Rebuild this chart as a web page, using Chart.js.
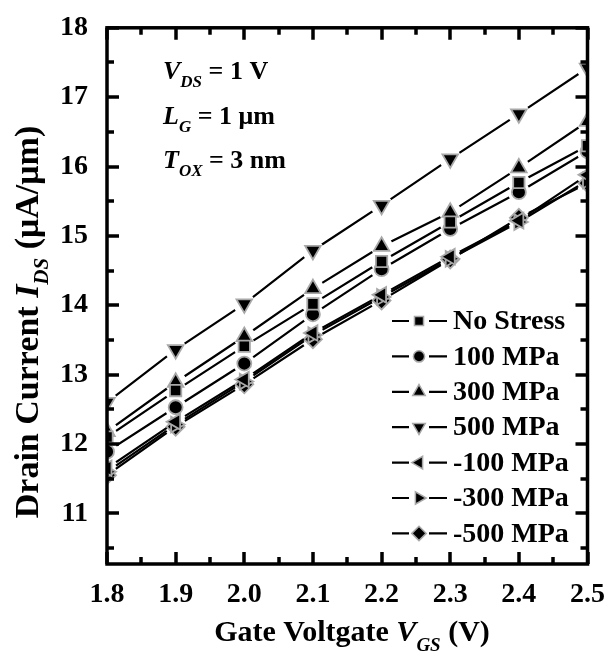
<!DOCTYPE html>
<html><head><meta charset="utf-8">
<script src="https://cdn.jsdelivr.net/npm/chart.js@4/dist/chart.umd.min.js"></script>
<style>html,body{margin:0;padding:0;background:#fff;}#wrap{width:611px;height:656px;}</style>
</head><body><div id="wrap"><canvas id="c" width="611" height="656"></canvas></div>
<script>
// ---- data ----
const vgs = [1.8, 1.9, 2.0, 2.1, 2.2, 2.3, 2.4, 2.5];
const seriesLabels = ['No Stress', '100 MPa', '300 MPa', '500 MPa', '-100 MPa', '-300 MPa', '-500 MPa'];
const idsNoStress = [12.10, 12.77, 13.41, 14.02, 14.63, 15.20, 15.77, 16.30];
const ids100 = [11.89, 12.53, 13.16, 13.87, 14.52, 15.10, 15.63, 16.22];
const ids300 = [12.18, 12.89, 13.55, 14.24, 14.85, 15.34, 15.98, 16.65];
const ids500 = [12.60, 13.36, 14.02, 14.79, 15.44, 16.11, 16.76, 17.42];
const idsM100 = [11.65, 12.32, 12.93, 13.60, 14.15, 14.70, 15.22, 15.88];
const idsM300 = [11.60, 12.28, 12.90, 13.57, 14.12, 14.67, 15.20, 15.80];
const idsM500 = [11.55, 12.25, 12.86, 13.51, 14.07, 14.66, 15.26, 15.76];
const xTickValues = [1.8, 1.9, 2.0, 2.1, 2.2, 2.3, 2.4, 2.5];
const yTickValues = [11, 12, 13, 14, 15, 16, 17, 18];

const seriesValues = [idsNoStress, ids100, ids300, ids500, idsM100, idsM300, idsM500];
const markerStyles = [
  {style:'rect', rot:0, r:8},
  {style:'circle', rot:0, r:7},
  {style:'triangle', rot:0, r:9},
  {style:'triangle', rot:180, r:9},
  {style:'triangle', rot:270, r:9},
  {style:'triangle', rot:90, r:9},
  {style:'rectRot', rot:0, r:9}
];
const SERIF = '"Liberation Serif", "Times New Roman", serif';
const GAP = 11;

const datasets = seriesLabels.map((lab, i) => ({
  label: lab,
  data: vgs.map((x, j) => ({x: x, y: seriesValues[i][j]})),
  borderColor: '#000',
  borderWidth: 2.2,
  backgroundColor: '#000',
  pointBackgroundColor: '#000',
  pointBorderColor: '#a8a8a8',
  pointBorderWidth: 1.8,
  pointStyle: markerStyles[i].style,
  pointRotation: markerStyles[i].rot,
  pointRadius: markerStyles[i].r,
  pointHoverRadius: markerStyles[i].r,
  tension: 0,
  fill: false
}));

function drawRuns(ctx, runs, x, y, align) {
  let total = 0;
  runs.forEach(r => { ctx.font = r[1]; total += ctx.measureText(r[0]).width; });
  let cx = align === 'center' ? x - total / 2 : x;
  ctx.textAlign = 'left';
  ctx.textBaseline = 'alphabetic';
  runs.forEach(r => { ctx.font = r[1]; ctx.fillText(r[0], cx, y + (r[2] || 0)); cx += ctx.measureText(r[0]).width; });
}

const gapPlugin = {
  id: 'gapPlugin',
  beforeDatasetDraw(chart, args) {
    const ctx = chart.ctx;
    ctx.save();
    ctx.beginPath();
    ctx.rect(0, 0, chart.width, chart.height);
    args.meta.data.forEach(p => { ctx.moveTo(p.x + GAP, p.y); ctx.arc(p.x, p.y, GAP, 0, Math.PI * 2, true); });
    ctx.clip('evenodd');
  },
  afterDatasetDraw(chart, args) {
    const ctx = chart.ctx;
    ctx.restore();
    const a = chart.chartArea;
    ctx.save();
    ctx.beginPath();
    ctx.rect(a.left, a.top, a.right - a.left, a.bottom - a.top);
    ctx.clip();
    args.meta.data.forEach(p => p.draw(ctx, {left: a.left - 20, top: a.top - 20, right: a.right + 20, bottom: a.bottom + 20}));
    ctx.restore();
  }
};

const framePlugin = {
  id: 'framePlugin',
  afterDatasetsDraw(chart) {
    const ctx = chart.ctx, a = chart.chartArea;
    const xs = chart.scales.x, ys = chart.scales.y;
    ctx.save();
    ctx.strokeStyle = '#000';
    ctx.lineWidth = 3.5;
    ctx.lineCap = 'butt';
    ctx.strokeRect(a.left, a.top, a.right - a.left, a.bottom - a.top);
    ctx.beginPath();
    for (let k = 0; k <= 14; k++) {
      const v = xs.min + k * 0.05;
      const px = Math.round(xs.getPixelForValue(v));
      const L = (k % 2 === 0) ? 12 : 7;
      ctx.moveTo(px, a.bottom); ctx.lineTo(px, a.bottom - L);
      ctx.moveTo(px, a.top); ctx.lineTo(px, a.top + L);
    }
    for (let k = 0; k <= 15; k++) {
      const v = 10.5 + k * 0.5;
      const py = Math.round(ys.getPixelForValue(v));
      const L = (k % 2 === 1) ? 12 : 7;
      ctx.moveTo(a.left, py); ctx.lineTo(a.left + L, py);
      ctx.moveTo(a.right, py); ctx.lineTo(a.right - L, py);
    }
    ctx.stroke();
    ctx.restore();
  },
  afterDraw(chart) {
    const ctx = chart.ctx;
    ctx.save();
    ctx.fillStyle = '#000';
    const B = 'bold 26px ' + SERIF, BI = 'italic bold 26px ' + SERIF, SI = 'italic bold 17px ' + SERIF;
    drawRuns(ctx, [['V', BI], ['DS', SI, 8], [' = 1 V', B]], 163, 79);
    drawRuns(ctx, [['L', BI], ['G', SI, 8], [' = 1 \u03bcm', B]], 163, 124);
    drawRuns(ctx, [['T', BI], ['OX', SI, 8], [' = 3 nm', B]], 163, 168);
    // x title
    const TB = 'bold 30px ' + SERIF, TBI = 'italic bold 30px ' + SERIF, TS = 'italic bold 19px ' + SERIF;
    drawRuns(ctx, [['Gate Voltgate ', TB], ['V', TBI], ['GS', TS, 10], [' (V)', TB]], 352, 641, 'center');
    // y title
    const YB = 'bold 34px ' + SERIF, YBI = 'italic bold 34px ' + SERIF, YS = 'italic bold 21px ' + SERIF;
    ctx.save();
    ctx.translate(38, 322);
    ctx.rotate(-Math.PI / 2);
    drawRuns(ctx, [['Drain Current ', YB], ['I', YBI], ['DS', YS, 10], [' (\u03bcA/\u03bcm)', YB]], 0, 0, 'center');
    ctx.restore();
    // legend
    const rowY0 = 321, rowDy = 35.4;
    chart.data.datasets.forEach((ds, i) => {
      const y = rowY0 + i * rowDy;
      ctx.strokeStyle = '#000';
      ctx.lineWidth = 2.2;
      ctx.beginPath();
      ctx.moveTo(392, y); ctx.lineTo(409, y);
      ctx.moveTo(429, y); ctx.lineTo(447, y);
      ctx.stroke();
      const r = ds.pointRadius * 0.8;
      ctx.fillStyle = '#000';
      ctx.strokeStyle = '#a8a8a8';
      ctx.lineWidth = 1.5;
      Chart.helpers.drawPoint(ctx, {pointStyle: ds.pointStyle, rotation: ds.pointRotation, radius: r, borderWidth: 1.5}, 419, y);
      ctx.fillStyle = '#000';
      ctx.font = 'bold 28px ' + SERIF;
      ctx.textAlign = 'left';
      ctx.textBaseline = 'middle';
      ctx.fillText(ds.label, 453, y + 1);
    });
    ctx.restore();
  }
};

new Chart(document.getElementById('c'), {
  type: 'line',
  data: {datasets: datasets},
  options: {
    responsive: false,
    devicePixelRatio: 1,
    animation: false,
    events: [],
    layout: {padding: {left: 0, right: 20, top: 21, bottom: 0}},
    plugins: {legend: {display: false}, tooltip: {enabled: false}, title: {display: false}},
    scales: {
      x: {
        type: 'linear', min: 1.8, max: 2.5,
        afterBuildTicks: s => { s.ticks = xTickValues.map(v => ({value: v})); },
        afterFit: s => { s.height = 92; },
        grid: {display: false}, border: {display: false},
        ticks: {color: '#000', font: {family: SERIF, weight: 'bold', size: 28}, padding: 6, maxRotation: 0, autoSkip: false, includeBounds: false,
          callback: v => Number(v).toFixed(1)}
      },
      y: {
        type: 'linear', min: 10.27, max: 18,
        afterBuildTicks: s => { s.ticks = yTickValues.map(v => ({value: v})); },
        afterFit: s => { s.width = 107; },
        grid: {display: false}, border: {display: false},
        ticks: {color: '#000', font: {family: SERIF, weight: 'bold', size: 28}, padding: 11, autoSkip: false, includeBounds: false,
          callback: v => String(v)}
      }
    }
  },
  plugins: [gapPlugin, framePlugin]
});
</script>
</body></html>
